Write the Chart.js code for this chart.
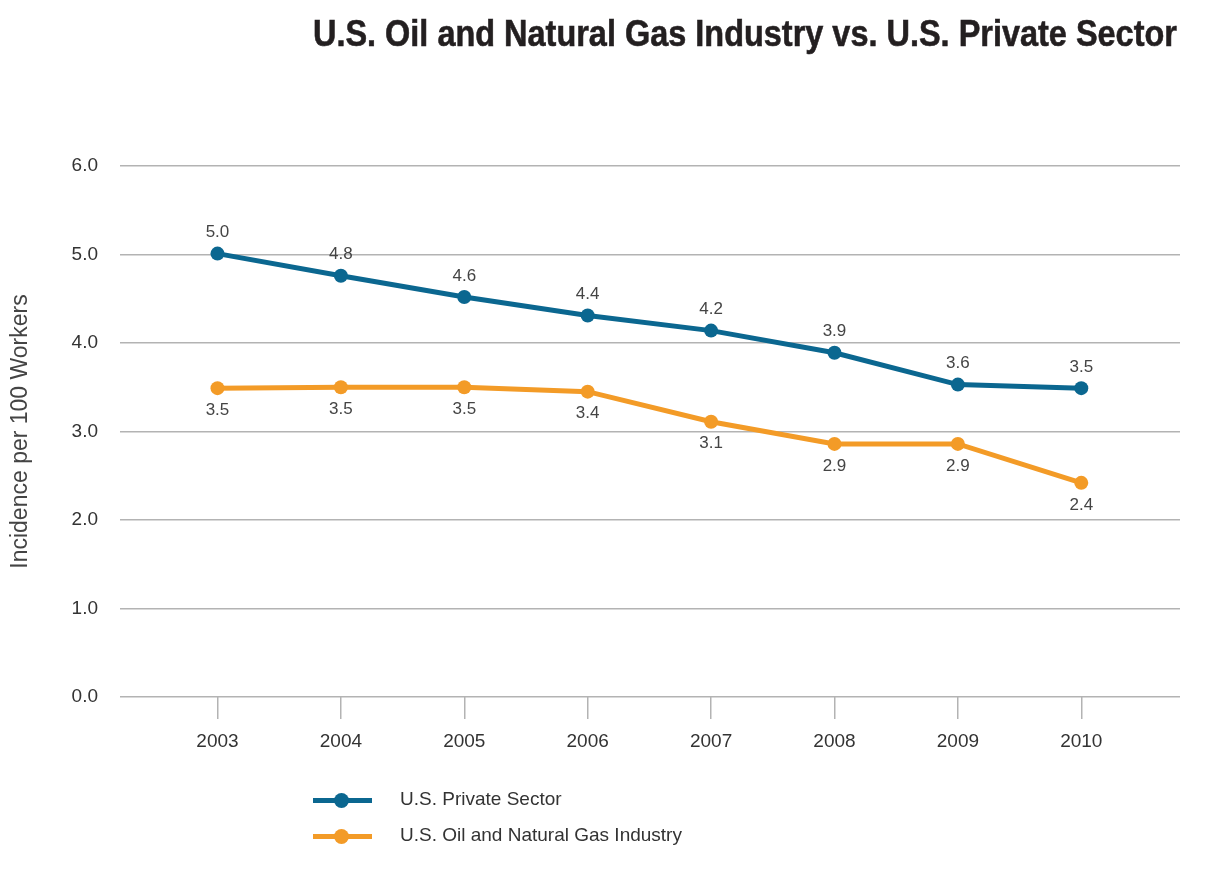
<!DOCTYPE html>
<html>
<head>
<meta charset="utf-8">
<script src="https://cdn.jsdelivr.net/npm/chart.js@4.4.1/dist/chart.umd.min.js"></script>
<style>
    html, body { margin: 0; padding: 0; background: #fff; }
    #wrap { position: relative; width: 1205px; height: 873px; overflow: hidden; }
    #chartBox { position: absolute; left: 0; top: 0; width: 1205px; height: 873px; }
    #title {
        position: absolute; right: 28px; top: 13px;
        font-family: 'Liberation Sans Narrow', 'Liberation Sans', Arial, sans-serif;
        font-weight: bold; font-size: 37px; color: #231f20;
        white-space: nowrap; transform-origin: right center;
        -webkit-text-stroke: 0.6px #231f20;
    }
    .legend-row { position: absolute; left: 313px; height: 20px; }
    .legend-line { position: absolute; left: 0; top: 8px; width: 59px; height: 5px; }
    .legend-dot { position: absolute; left: 21px; top: 3px; width: 15px; height: 15px; border-radius: 50%; }
    .legend-text {
        position: absolute; left: 87px; top: -2px; white-space: nowrap;
        font-family: 'Liberation Sans', Arial, sans-serif; font-size: 19px; color: #333;
    }
</style>
</head>
<body>
<div id="wrap">
    <div id="chartBox"><canvas id="incidenceChart"></canvas></div>
    <div id="title">U.S. Oil and Natural Gas Industry vs. U.S. Private Sector</div>
    <div id="legend"></div>
</div>
<script>
// ============================================
// Data
// ============================================
var years = [2003, 2004, 2005, 2006, 2007, 2008, 2009, 2010];

var privateSector = [5.01, 4.76, 4.52, 4.31, 4.14, 3.89, 3.53, 3.49];
var privateLabels = ['5.0', '4.8', '4.6', '4.4', '4.2', '3.9', '3.6', '3.5'];

var oilGas = [3.49, 3.50, 3.50, 3.45, 3.11, 2.86, 2.86, 2.42];
var oilGasLabels = ['3.5', '3.5', '3.5', '3.4', '3.1', '2.9', '2.9', '2.4'];

var yTicks = [0, 1, 2, 3, 4, 5, 6];

var BLUE = '#0b6790';
var ORANGE = '#f39b27';
var FONT = "'Liberation Sans', Arial, sans-serif";

// ============================================
// Title fit
// ============================================
function fitTitle() {
    var t = document.getElementById('title');
    var w = t.getBoundingClientRect().width;
    t.style.transform = 'scaleX(' + (864 / w) + ')';
}

// ============================================
// Legend
// ============================================
function buildLegend() {
    var legend = document.getElementById('legend');
    var items = [
        { label: 'U.S. Private Sector', color: BLUE, top: 790 },
        { label: 'U.S. Oil and Natural Gas Industry', color: ORANGE, top: 826 }
    ];
    items.forEach(function(item) {
        var row = document.createElement('div');
        row.className = 'legend-row';
        row.style.top = item.top + 'px';
        row.innerHTML = '<div class="legend-line" style="background:' + item.color + '"></div>' +
            '<div class="legend-dot" style="background:' + item.color + '"></div>' +
            '<div class="legend-text">' + item.label + '</div>';
        legend.appendChild(row);
    });
}

// ============================================
// Point labels plugin
// ============================================
var pointLabels = {
    id: 'pointLabels',
    afterDatasetsDraw: function(chart) {
        var ctx = chart.ctx;
        ctx.save();
        ctx.font = '17px ' + FONT;
        ctx.fillStyle = '#444';
        ctx.textAlign = 'center';
        ctx.textBaseline = 'middle';
        chart.data.datasets.forEach(function(ds, i) {
            var meta = chart.getDatasetMeta(i);
            meta.data.forEach(function(pt, j) {
                var dy = ds.labelAbove ? -21 : 22;
                ctx.fillText(ds.pointText[j], pt.x, pt.y + dy);
            });
        });
        ctx.restore();
    }
};

// ============================================
// Chart
// ============================================
function initChart() {
    var ctx = document.getElementById('incidenceChart');

    function toPoints(values) {
        return values.map(function(v, i) { return { x: years[i], y: v }; });
    }

    new Chart(ctx, {
        type: 'line',
        data: {
            datasets: [
                {
                    label: 'U.S. Private Sector',
                    data: toPoints(privateSector),
                    pointText: privateLabels,
                    labelAbove: true,
                    borderColor: BLUE,
                    backgroundColor: BLUE,
                    borderWidth: 5,
                    pointRadius: 7,
                    pointBorderWidth: 0,
                    tension: 0
                },
                {
                    label: 'U.S. Oil and Natural Gas Industry',
                    data: toPoints(oilGas),
                    pointText: oilGasLabels,
                    labelAbove: false,
                    borderColor: ORANGE,
                    backgroundColor: ORANGE,
                    borderWidth: 5,
                    pointRadius: 7,
                    pointBorderWidth: 0,
                    tension: 0
                }
            ]
        },
        options: {
            responsive: true,
            maintainAspectRatio: false,
            animation: false,
            layout: {
                padding: { left: 0, right: 25, top: 166, bottom: 122 }
            },
            plugins: {
                legend: { display: false },
                tooltip: { enabled: false }
            },
            scales: {
                x: {
                    type: 'linear',
                    min: 2002.21,
                    max: 2010.8,
                    afterBuildTicks: function(scale) {
                        scale.ticks = years.map(function(y) { return { value: y }; });
                    },
                    afterFit: function(scale) { scale.height = 54; },
                    grid: {
                        drawOnChartArea: false,
                        drawTicks: true,
                        tickLength: 22,
                        color: '#b3b3b3',
                        lineWidth: 1.5
                    },
                    border: { display: false },
                    ticks: {
                        color: '#333',
                        font: { family: FONT, size: 19 },
                        padding: 11,
                        maxRotation: 0,
                        callback: function(v) { return String(v); }
                    }
                },
                y: {
                    min: 0,
                    max: 6,
                    afterBuildTicks: function(scale) {
                        scale.ticks = yTicks.map(function(v) { return { value: v }; });
                    },
                    afterFit: function(scale) { scale.width = 120; },
                    grid: {
                        drawTicks: false,
                        color: '#b3b3b3',
                        lineWidth: 1.5
                    },
                    border: { display: false },
                    ticks: {
                        color: '#333',
                        font: { family: FONT, size: 19 },
                        padding: 22,
                        callback: function(v) { return v.toFixed(1); }
                    },
                    title: {
                        display: true,
                        text: 'Incidence per 100 Workers',
                        color: '#444',
                        font: { family: FONT, size: 23 },
                        padding: { top: 7, bottom: 0 }
                    }
                }
            }
        },
        plugins: [pointLabels]
    });
}

document.addEventListener('DOMContentLoaded', function() {
    fitTitle();
    buildLegend();
    initChart();
});
</script>
</body>
</html>
